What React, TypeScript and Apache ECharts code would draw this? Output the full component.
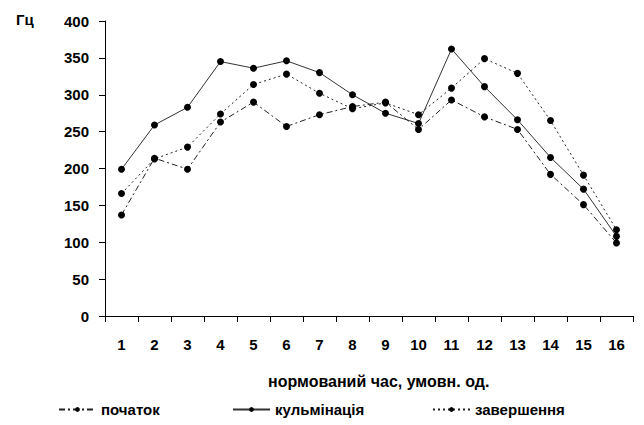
import React, { useEffect, useRef } from "react";
import * as echarts from "echarts";

// Normalised time steps
const categories = ["1", "2", "3", "4", "5", "6", "7", "8", "9", "10", "11", "12", "13", "14", "15", "16"];

// Pitch (Hz) at each step
const pochatok = [137, 214, 199, 263, 290, 257, 273, 284, 290, 253, 293, 270, 253, 192, 151, 99];
const kulminatsiia = [199, 259, 283, 345, 336, 346, 330, 300, 275, 261, 362, 311, 266, 215, 172, 108];
const zavershennia = [166, 213, 229, 274, 314, 328, 302, 281, 289, 273, 309, 349, 329, 265, 191, 117];

const seriesNames = ["початок", "кульмінація", "завершення"];
const yTicks = { min: 0, max: 400, interval: 50 };

const FONT = "'Liberation Sans', Arial, sans-serif";

export default function App() {
  const ref = useRef<HTMLDivElement>(null);

  useEffect(() => {
    if (!ref.current) return;
    const chart = echarts.init(ref.current, null, { renderer: "svg" });

    const textStyle = { fontFamily: FONT, fontWeight: "bold" as const, fontSize: 15, color: "#000" };

    const mkSeries = (name: string, data: number[], type: any, color: string) => ({
      name,
      type: "line",
      data,
      symbol: "circle",
      symbolSize: 7,
      showSymbol: true,
      itemStyle: { color: "#000" },
      lineStyle: { color, width: 1, type },
      emphasis: { disabled: true },
    });

    const legendBase = {
      top: 402,
      itemWidth: 37,
      itemHeight: 6,
      itemGap: 5,
      padding: 0,
      selectedMode: false,
      textStyle: { ...textStyle, fontSize: 15 },
    };

    chart.setOption({
      animation: false,
      backgroundColor: "#fff",
      grid: { left: 105, right: 11, top: 21, bottom: 109 },
      legend: [
        { ...legendBase, left: 58, data: [seriesNames[0]] },
        { ...legendBase, left: 232, data: [seriesNames[1]] },
        { ...legendBase, left: 432, data: [seriesNames[2]] },
      ],
      xAxis: {
        type: "category",
        data: categories,
        boundaryGap: true,
        axisLine: { lineStyle: { color: "#000", width: 1 } },
        axisTick: { show: true, length: 6, lineStyle: { color: "#000" } },
        axisLabel: { ...textStyle, margin: 21 },
        splitLine: { show: false },
      },
      yAxis: {
        type: "value",
        min: yTicks.min,
        max: yTicks.max,
        interval: yTicks.interval,
        axisLine: { show: true, lineStyle: { color: "#000", width: 1 } },
        axisTick: { show: true, length: 6, lineStyle: { color: "#000" } },
        axisLabel: { ...textStyle, margin: 16 },
        splitLine: { show: false },
      },
      graphic: [
        {
          type: "text",
          left: 16,
          top: 12,
          style: { text: "Гц", font: `bold 15px ${FONT}`, fill: "#000" },
        },
        {
          type: "text",
          left: 268,
          top: 373,
          style: { text: "нормований час, умовн. од.", font: `bold 16px ${FONT}`, fill: "#000" },
        },
      ],
      series: [
        mkSeries(seriesNames[0], pochatok, [6, 3, 2, 3], "#222"),
        mkSeries(seriesNames[1], kulminatsiia, "solid", "#333"),
        mkSeries(seriesNames[2], zavershennia, [2, 3], "#222"),
      ],
    });

    return () => chart.dispose();
  }, []);

  return <div ref={ref} style={{ width: 644, height: 425, position: "absolute", left: 0, top: 0 }} />;
}
